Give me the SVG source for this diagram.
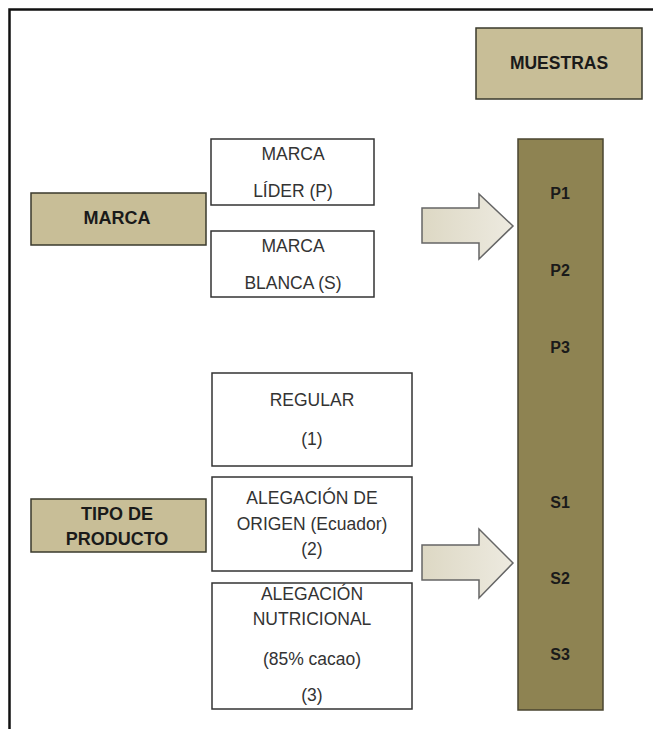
<svg xmlns="http://www.w3.org/2000/svg" width="653" height="729" viewBox="0 0 653 729">
<defs>
<linearGradient id="arrowFill" x1="0" y1="0" x2="1" y2="0">
<stop offset="0" stop-color="#DDD8C4"/>
<stop offset="1" stop-color="#EDEAE0"/>
</linearGradient>
<style>
.tan{fill:#C8BE97;stroke:#3A3A2C;stroke-width:1.5}
.white{fill:#FFFFFF;stroke:#333333;stroke-width:1.5}
.col{fill:#8E8352;stroke:#4A4530;stroke-width:1.5}
.arrow{fill:url(#arrowFill);stroke:#666666;stroke-width:1.5;stroke-linejoin:miter}
.bold{font-family:"Liberation Sans",Arial,sans-serif;font-weight:bold;fill:#1A1A1A;text-anchor:middle;dominant-baseline:central}
.reg{font-family:"Liberation Sans",Arial,sans-serif;fill:#333333;text-anchor:middle;dominant-baseline:central;font-size:17.5px}
</style>
</defs>
<rect width="653" height="729" fill="#FFFFFF"/>
<g id="frame">
<path d="M9.5 729 V9.5 H653" fill="none" stroke="#111111" stroke-width="2.5"/>
</g>
<g id="muestras">
<rect class="tan" x="476" y="28" width="166" height="71"/>
<text class="bold" x="559" y="63" font-size="17.5">MUESTRAS</text>
</g>
<g id="marca">
<rect class="tan" x="31" y="193" width="175" height="52"/>
<text class="bold" x="117" y="218" font-size="18">MARCA</text>
</g>
<g id="marca-lider">
<rect class="white" x="211" y="139" width="163" height="66"/>
<text class="reg" x="293" y="154">MARCA</text>
<text class="reg" x="293" y="191">LÍDER (P)</text>
</g>
<g id="marca-blanca">
<rect class="white" x="211" y="231" width="163" height="66"/>
<text class="reg" x="293" y="246">MARCA</text>
<text class="reg" x="293" y="283">BLANCA (S)</text>
</g>
<g id="tipo-producto">
<rect class="tan" x="31" y="499" width="175" height="53"/>
<text class="bold" x="117" y="514" font-size="18">TIPO DE</text>
<text class="bold" x="117" y="539" font-size="18">PRODUCTO</text>
</g>
<g id="regular">
<rect class="white" x="212" y="373" width="200" height="93"/>
<text class="reg" x="312" y="400">REGULAR</text>
<text class="reg" x="312" y="439">(1)</text>
</g>
<g id="origen">
<rect class="white" x="212" y="477" width="200" height="94"/>
<text class="reg" x="312" y="498">ALEGACIÓN DE</text>
<text class="reg" x="312" y="524">ORIGEN (Ecuador)</text>
<text class="reg" x="312" y="549">(2)</text>
</g>
<g id="nutricional">
<rect class="white" x="212" y="583" width="200" height="126"/>
<text class="reg" x="312" y="594">ALEGACIÓN</text>
<text class="reg" x="312" y="619">NUTRICIONAL</text>
<text class="reg" x="312" y="659">(85% cacao)</text>
<text class="reg" x="312" y="695">(3)</text>
</g>
<g id="samples">
<rect class="col" x="518" y="139" width="85" height="571"/>
<text class="bold" x="560" y="193" font-size="16">P1</text>
<text class="bold" x="560" y="270" font-size="16">P2</text>
<text class="bold" x="560" y="347" font-size="16">P3</text>
<text class="bold" x="560" y="502" font-size="16">S1</text>
<text class="bold" x="560" y="578" font-size="16">S2</text>
<text class="bold" x="560" y="654" font-size="16">S3</text>
</g>
<g id="connectors">
<path class="arrow" d="M422 208 H479 V194 L513 226 L479 259 V243 H422 Z"/>
<path class="arrow" d="M422 545 H479 V529 L513 563 L479 598 V580 H422 Z"/>
</g>
</svg>
